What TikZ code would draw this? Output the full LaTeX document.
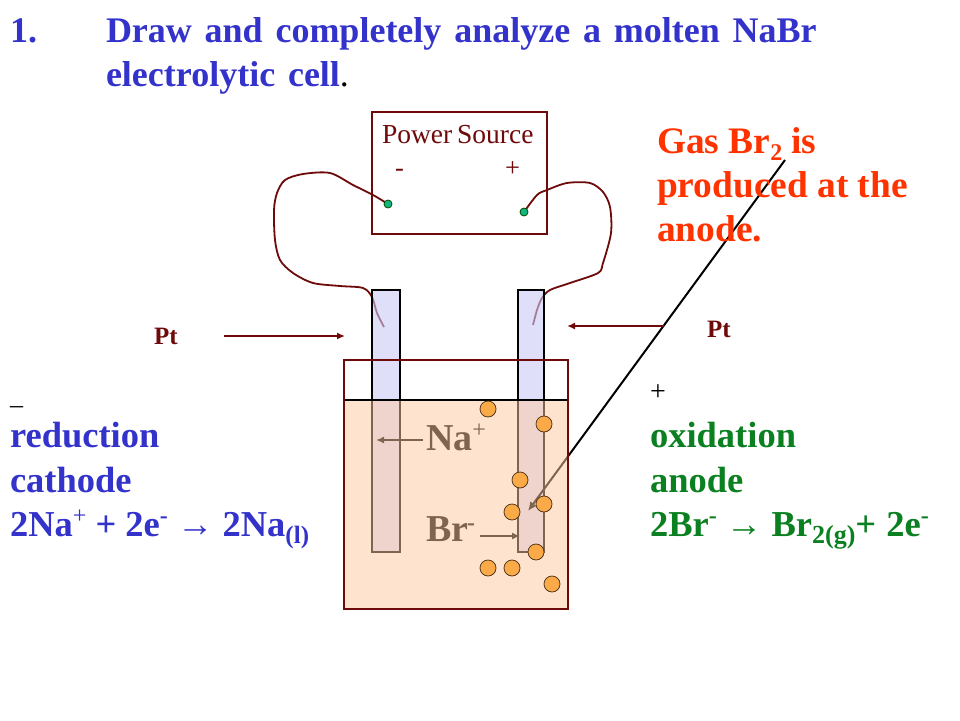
\documentclass[tikz,border=0pt]{standalone}
\usepackage{fontspec}
\setmainfont{Liberation Serif}
\usetikzlibrary{arrows.meta}
\definecolor{titleblue}{HTML}{3333CC}
\definecolor{gasred}{HTML}{FF3300}
\definecolor{anodegreen}{HTML}{0A8020}
\definecolor{wirered}{HTML}{6E0A0A}
\definecolor{liquidc}{RGB}{254,202,160}
\definecolor{elecfill}{HTML}{CBCBF7}
\definecolor{bubble}{HTML}{FBAA48}
\definecolor{dotgreen}{HTML}{10B880}
\newcommand{\szr}[1]{\fontsize{#1}{#1}\selectfont}
\newcommand{\hi}[3]{\raisebox{#1pt}{\szr{#2}#3}}
\tikzset{
  x=1pt,y=-1pt,
  txt/.style={anchor=base west,inner sep=0pt,outer sep=0pt},
  head/.style={txt,text=titleblue,font=\bfseries\szr{36}},
  big/.style={txt,font=\bfseries\szr{36.5}},
  redt/.style={txt,text=gasred,font=\bfseries\szr{37.4}},
  ptlabel/.style={txt,text=wirered,font=\bfseries\szr{25}},
  wire/.style={draw=wirered,line width=1.8pt,line join=round},
  ptarrow/.style={draw=wirered,line width=2pt,-{Latex[length=8pt,width=7pt]}},
  plate/.style={draw=black,line width=2.6pt,fill=elecfill,fill opacity=.6,outer sep=0pt},
  boxd/.style={draw=wirered,line width=2.2pt,inner sep=0pt,outer sep=0pt,anchor=north west},
  gas/.style={circle,draw=black!55!brown,line width=.8pt,fill=bubble,minimum size=16pt,inner sep=0pt},
  term/.style={circle,draw=black!70!green,line width=.8pt,fill=dotgreen,minimum size=8pt,inner sep=0pt}
}
\begin{document}
\begin{tikzpicture}
\useasboundingbox (0,0) rectangle (960,720);
\fill[white] (0,0) rectangle (960,720);
% title
\node[head] (t1) at (10,42) {1.};
\node[head] (t2) at (106,42) {\spaceskip=.355em Draw and completely analyze a molten NaBr};
\node[head] (t3) at (106,86) {\spaceskip=.355em electrolytic cell\textcolor{black}{\mdseries .}};
% power source
\node[boxd,minimum width=175pt,minimum height=122pt] (ps) at (372,112) {};
\node[txt,text=wirered,font=\szr{27.5}] (pst) at (382,143) {Power\kern-2pt\ Source};
\node[txt,text=wirered,font=\szr{26.5}] (psm) at (395,176) {-};
\node[txt,text=wirered,font=\szr{26.5}] (psp) at (505,176) {+};
% wires
\coordinate (wl) at (384,327);
\coordinate (wr) at (533,325);
\coordinate (dl) at (388,204);
\coordinate (dr) at (524,212);
\draw[wire] plot[smooth,tension=.5] coordinates {(dl) (373,195) (353,185) (330,173) (303,174) (285,180) (277,193) (274,210) (275,240) (280,260) (293,273) (313,283) (340,286) (363,288) (372,297) (377,313) (wl)};
\draw[wire] plot[smooth,tension=.5] coordinates {(dr) (537,195) (547,190) (567,183) (590,183) (603,192) (610,207) (611,233) (603,263) (598,273) (570,283) (550,290) (542,298) (537,310) (wr)};
\node[term] (dotl) at (dl) {};
\node[term] (dotr) at (dr) {};
% electrodes
\node[plate,minimum width=28pt,minimum height=262pt,inner sep=0pt,anchor=north west] (cat) at (372,290) {};
\node[plate,minimum width=26pt,minimum height=262pt,inner sep=0pt,anchor=north west] (ano) at (518,290) {};
% labels inside
\node[txt,font=\bfseries\szr{38}] (na) at (426,450) {Na\hi{13}{24}{\mdseries +}};
\node[txt,font=\bfseries\szr{38}] (br) at (426,541) {Br\kern-1pt\hi{11}{24}{-}};
\draw[line width=2pt,-{Latex[length=8pt,width=7pt]}] (na.west |- 0,440) ++(-3,0) -- (376,440);
\coordinate (brs) at (480,536);
\coordinate (bre) at (520,536);
\draw[line width=2pt,-{Latex[length=8pt,width=7pt]}] (brs) -- (bre);
% gas pointer
\coordinate (gs) at (785,160);
\coordinate (ge) at (528,511);
\draw[line width=2pt,-{Latex[length=9pt,width=8pt]}] (gs) -- (ge);
% beaker and liquid
\fill[liquidc,fill opacity=.5] (344,400) rectangle (568,609);
\draw[black,line width=1.4pt] (344,400) -- (568,400);
\node[boxd,minimum width=224pt,minimum height=249pt] (beaker) at (344,360) {};
% bubbles
\foreach \n/\p in {a/{488,409},b/{544,424},c/{520,480},d/{544,504},e/{512,512},f/{536,552},g/{488,568},h/{512,568},i/{552,584}}
  \node[gas] (b\n) at (\p) {};
% Pt arrows
\node[ptlabel] (ptl) at (154,344) {Pt};
\node[ptlabel] (ptr) at (707,337) {Pt};
\coordinate (pa) at (224,336);
\coordinate (pb) at (345,336);
\coordinate (pc) at (664,326);
\coordinate (pd) at (567,326);
\draw[ptarrow] (pa) -- (pb);
\draw[ptarrow] (pc) -- (pd);
% red text
\node[redt] (g1) at (657,153) {Gas Br\hi{-7}{24}{2} is};
\node[redt] (g2) at (657,197) {produced at the};
\node[redt] (g3) at (657,241) {anode.};
% left
\node[txt,font=\szr{26}] (minus) at (10,404) {\_};
\node[big,text=titleblue] (c1) at (10,447) {reduction};
\node[big,text=titleblue] (c2) at (10,492) {cathode};
\node[big,text=titleblue] (c3) at (10,536) {2Na\hi{13}{24}{\mdseries +} + 2e\hi{13}{24}{-} → 2Na\hi{-7}{25}{(l)}};
% right
\node[txt,font=\szr{28}] (plus) at (650,400) {+};
\node[big,text=anodegreen] (a1) at (650,447) {oxidation};
\node[big,text=anodegreen] (a2) at (650,492) {anode};
\node[big,text=anodegreen] (a3) at (650,536) {2Br\hi{13}{24}{-} → Br\hi{-7}{26}{2(g)}+\kern1pt\ 2e\hi{13}{24}{-}};
\end{tikzpicture}
\end{document}
